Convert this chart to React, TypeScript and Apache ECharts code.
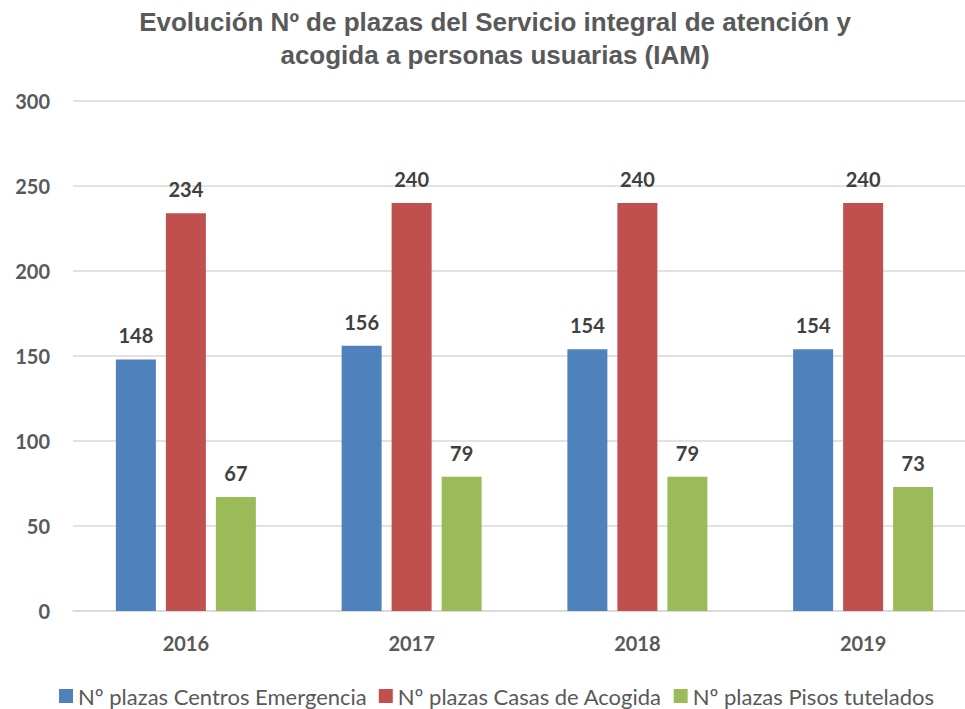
import React, { useEffect, useRef } from "react";
import * as echarts from "echarts";

const titleText = "Evolución Nº de plazas del Servicio integral de atención y\nacogida a personas usuarias (IAM)";
const categories = ["2016", "2017", "2018", "2019"];
const seriesNames = [
  "Nº plazas Centros Emergencia",
  "Nº plazas Casas de Acogida",
  "Nº plazas Pisos tutelados",
];
const centrosEmergencia = [148, 156, 154, 154];
const casasAcogida = [234, 240, 240, 240];
const pisosTutelados = [67, 79, 79, 73];
const colors = ["#4F81BD", "#C0504D", "#9BBB59"];
const legendTextWidths = [290, 274, 250];

export default function App() {
  const ref = useRef<HTMLDivElement>(null);
  useEffect(() => {
    document.body.style.margin = "0";
    document.body.style.overflow = "hidden";
    const chart = echarts.init(ref.current!, null, { renderer: "svg" });
    const values = [centrosEmergencia, casasAcogida, pisosTutelados];
    chart.setOption({
      animation: false,
      backgroundColor: "#ffffff",
      title: {
        text: titleText,
        left: 490,
        textAlign: "center",
        top: 0,
        textStyle: {
          fontFamily: "Liberation Sans",
          fontWeight: "bold",
          fontSize: 26,
          lineHeight: 33,
          color: "#595959",
        },
      },
      legend: {
        top: 680,
        left: 54,
        icon: "rect",
        itemWidth: 14,
        itemHeight: 14,
        itemGap: 12,
        textStyle: {
          fontFamily: "Lato",
          fontSize: 22,
          color: "#595959",
        },
        data: seriesNames.map((name, i) => ({
          name,
          textStyle: { width: legendTextWidths[i] },
        })),
      },
      grid: { left: 73, top: 101, width: 903, height: 510 },
      xAxis: {
        type: "category",
        data: categories,
        axisLine: { lineStyle: { color: "#D9D9D9", width: 1.5 } },
        axisTick: { show: false },
        axisLabel: {
          margin: 22,
          fontFamily: "Lato",
          fontWeight: "bold",
          fontSize: 20,
          color: "#595959",
        },
      },
      yAxis: {
        type: "value",
        min: 0,
        max: 300,
        interval: 50,
        axisLine: { show: false },
        axisTick: { show: false },
        splitLine: { lineStyle: { color: "#D9D9D9", width: 1.5 } },
        axisLabel: {
          margin: 23,
          fontFamily: "Lato",
          fontWeight: "bold",
          fontSize: 20,
          color: "#595959",
        },
      },
      series: seriesNames.map((name, i) => ({
        name,
        type: "bar",
        data: values[i],
        barWidth: 40,
        barGap: "25%",
        itemStyle: { color: colors[i] },
        label: {
          show: true,
          position: "top",
          distance: 14,
          fontFamily: "Lato",
          fontWeight: "bold",
          fontSize: 20,
          color: "#404040",
        },
      })),
    });
    return () => chart.dispose();
  }, []);
  return <div ref={ref} style={{ width: 980, height: 709 }} />;
}
